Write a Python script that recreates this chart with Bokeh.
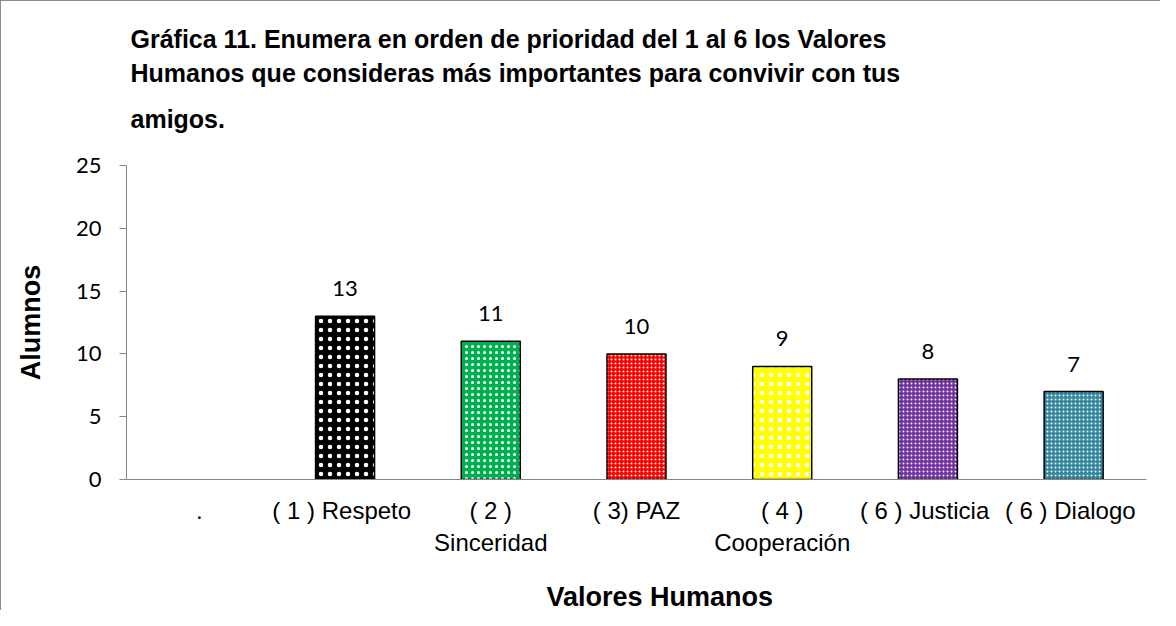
from bokeh.plotting import figure
from bokeh.models import ColumnDataSource, LabelSet, Title, FixedTicker
from bokeh.core.properties import value
from bokeh.embed import file_html
from bokeh.resources import INLINE

# ---- data ----
categories = [".", "(  1 ) Respeto", "( 2 )\nSinceridad", "( 3) PAZ",
              "( 4 )\nCooperación", "( 6  ) Justicia", "( 6  ) Dialogo"]
alumnos = [None, 13, 11, 10, 9, 8, 7]
y_ticks = [0, 5, 10, 15, 20, 25]
title_lines = ["Gráfica 11. Enumera en orden de prioridad del 1 al 6 los Valores",
               "Humanos que consideras más importantes  para convivir con tus",
               "amigos."]
x_title = "Valores Humanos"
y_title = "Alumnos"

# ---- styles ----
fills = ["#000000", "#00b050", "#ff0000", "#ffff00", "#7030a0", "#31859c"]
hatch_colors = ["#ffffff"] * 6
hatches = ["dot"] * 6
hatch_scales = [9, 6, 4, 9, 4, 4]
hatch_weights = [1.8, 3.0, 1.6, 1.8, 1.8, 2.0]
title_standoffs = [8, 0, 32]

bx = [c for c, v in zip(categories, alumnos) if v is not None]
by = [v for v in alumnos if v is not None]
src = ColumnDataSource(dict(x=bx, top=by, fill=fills, hc=hatch_colors, hp=hatches,
                            hs=hatch_scales, hw=hatch_weights,
                            lbl=[str(v) for v in by]))

p = figure(x_range=categories, y_range=(0, 25), width=1160, height=610,
           output_backend="svg", toolbar_location=None, title=None,
           min_border_left=125, min_border_right=15, min_border_top=164,
           min_border_bottom=129)

p.vbar(x="x", top="top", width=0.405, source=src, fill_color="fill",
       line_color="#000000", line_width=1.5, hatch_pattern="hp",
       hatch_color="hc", hatch_scale="hs", hatch_weight="hw")

labels = LabelSet(x="x", y="top", text="lbl", source=src, text_align="center",
                  text_baseline="bottom", y_offset=20,
                  text_font=value("Lato"), text_font_size="22px",
                  text_color="#000000")
p.add_layout(labels)

# spacer right above the plot, then the title lines (later = further up)
p.add_layout(Title(text=" ", text_font_size="10px", standoff=4), "above")
for line, so in zip(reversed(title_lines), reversed(title_standoffs)):
    t = Title(text=line, align="left", offset=4, standoff=so,
              text_font="Liberation Sans", text_font_size="25px",
              text_font_style="bold", text_color="#000000")
    p.add_layout(t, "above")

xt = Title(text=x_title, align="left", offset=420, standoff=0,
           text_font="Liberation Sans", text_font_size="27px",
           text_font_style="bold", text_color="#000000")
p.add_layout(xt, "below")

p.xgrid.grid_line_color = None
p.ygrid.grid_line_color = None
p.outline_line_color = None
p.background_fill_color = "#ffffff"
p.border_fill_color = "#ffffff"

ya = p.yaxis[0]
ya.ticker = FixedTicker(ticks=y_ticks)
ya.axis_line_color = "#868686"
ya.major_tick_line_color = "#868686"
ya.major_tick_out = 7
ya.major_tick_in = 0
ya.minor_tick_line_color = None
ya.major_label_standoff = 18
ya.major_label_text_font = "Lato"
ya.major_label_text_font_size = "22px"
ya.major_label_text_color = "#000000"
ya.axis_label = y_title
ya.axis_label_text_font = "Liberation Sans"
ya.axis_label_text_font_size = "27px"
ya.axis_label_text_font_style = "bold"
ya.axis_label_text_color = "#000000"
ya.axis_label_standoff = 27

xa = p.xaxis[0]
xa.axis_line_color = "#868686"
xa.major_tick_line_color = None
xa.major_tick_out = 0
xa.major_tick_in = 0
xa.minor_tick_line_color = None
xa.major_label_standoff = 17
xa.major_label_text_font = "Liberation Sans"
xa.major_label_text_font_size = "24px"
xa.major_label_text_color = "#000000"
xa.axis_label = " "
xa.axis_label_text_font_size = "10px"
xa.axis_label_standoff = 7

p.styles = {"border-left": "1px solid #8c8c8c", "border-top": "1px solid #8c8c8c"}

open("out.html", "w").write(file_html(p, INLINE))
